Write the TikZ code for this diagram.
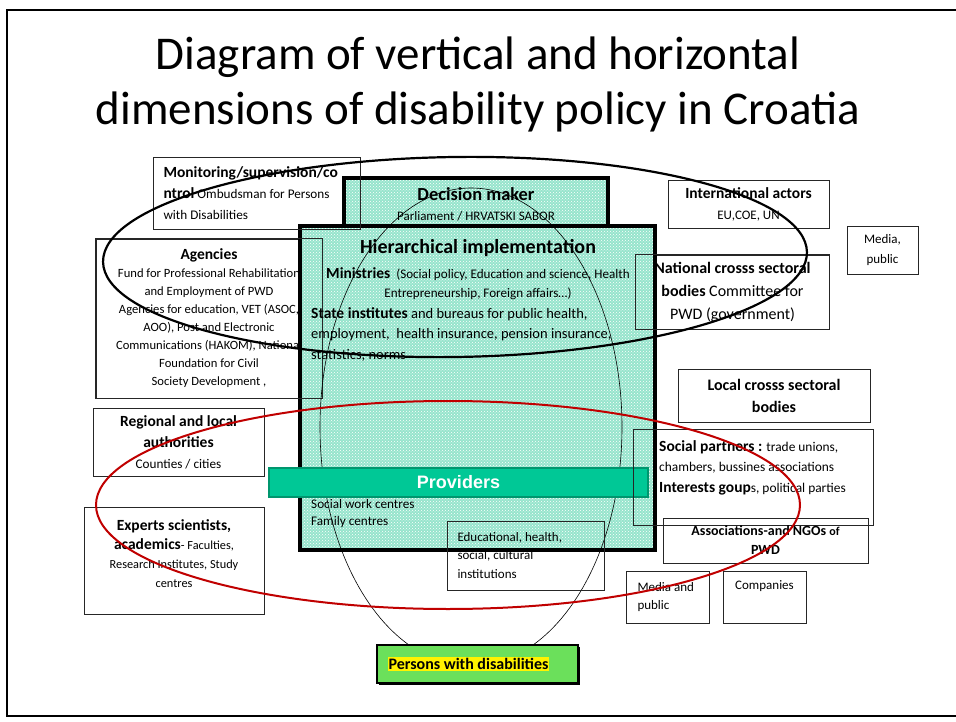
\documentclass[tikz,border=0pt]{standalone}
\usepackage{fontspec}
\setmainfont{Carlito}
\newfontfamily\arialfont{Liberation Sans}
\usepackage{tikz}
\usetikzlibrary{patterns}
\usetikzlibrary{shadows}

\definecolor{mint}{RGB}{150,228,204}
\definecolor{provgreen}{RGB}{0,200,150}
\definecolor{provedge}{RGB}{0,150,110}
\definecolor{pwdgreen}{RGB}{107,224,91}
\definecolor{ringred}{RGB}{192,0,0}

\def\fsz#1#2{\fontsize{#1}{#2}\selectfont}
\def\hd#1{{\fsz{15.5}{20}\bfseries #1}}
\setlength{\fboxsep}{1pt}

\begin{document}
\begin{tikzpicture}[x=1pt,y=-1pt,
    box/.style={draw=black!85,line width=0.9pt,rectangle,inner sep=0pt,align=center},
    txt/.style={inner sep=0pt},
    thickbox/.style={draw=black,line width=3.5pt,rectangle,inner sep=0pt,align=center,
        preaction={fill=mint},pattern=crosshatch dots,pattern color=white}]
\useasboundingbox (0,0) rectangle (956,722);
\draw[line width=1.8pt] (7,10) rectangle (962,716);

\node (title1) at (478,70) [anchor=base,font=\fsz{47}{55}] {Diagram of vertical and horizontal};
\node (title2) at (478,125) [anchor=base,font=\fsz{47}{55}] {dimensions of disability policy in Croatia};

% boxes that sit under the implementation block
\node (agencies) at (209,318.5) [box,minimum width=226,minimum height=159,font=\fsz{12.6}{18}]
    {\hd{Agencies}\\Fund for Professional Rehabilitation\\and Employment of PWD\\Agencies for education, VET (ASOC,\\AOO), Post and Electronic\\Communications (HAKOM), National\\Foundation for Civil\\Society Development ,};
\node (national) at (732.5,292) [box,minimum width=193,minimum height=74,font=\fsz{16}{23}]
    {\textbf{National crosss sectoral}\\\textbf{bodies} Committee for\\PWD (government)};

\node (decision) at (476,204) [thickbox,minimum width=264,minimum height=52,font=\fsz{13}{20}]
    {{\fsz{18.4}{20}\bfseries Decision maker}\\Parliament / HRVATSKI SABOR};
\node (hier) at (477.5,388) [thickbox,line width=4pt,minimum width=355,minimum height=324] {};

\draw[draw=black!85,line width=0.9pt] (agencies.north west) rectangle (agencies.south east);
\draw[draw=black!85,line width=0.9pt] (national.north west) rectangle (national.south east);

\node (monitor) at (256.5,193) [box,minimum width=207,minimum height=72,align=flush left,text width=186,font=\fsz{13.2}{21}]
    {\hd{Monitoring/supervision/co}\\\hd{ntrol} Ombudsman for Persons\\with Disabilities};

\draw[line width=0.6pt] (471,427) ellipse [x radius=151, y radius=239];

\node (hiertitle) at (478,248) [txt,font=\fsz{20}{24}\bfseries] {Hierarchical implementation};
\node (ministries) at (478,283.5) [txt,align=center,font=\fsz{13.1}{19}]
    {{\fsz{15.5}{19}\bfseries Ministries}\ \ (Social policy, Education and science, Health\\Entrepreneurship, Foreign affairs…)};
\node (institutes) at (311,334) [txt,anchor=west,align=left,font=\fsz{14.5}{20.5}]
    {{\fsz{15.5}{20.5}\bfseries State institutes} and bureaus for public health,\\employment,\ \ health insurance, pension insurance,\\statistics, norms};
\node (centres) at (311,513.5) [txt,anchor=west,align=left,font=\fsz{13.2}{17.5}]
    {Social work centres\\Family centres};

\node (providers) at (458.5,482.5) [draw=provedge,line width=1.5pt,fill=provgreen,minimum width=379,minimum height=29,
    text=white,font=\arialfont\bfseries\fsz{18}{20}] {Providers};

\node (institutions) at (525.5,555.5) [box,minimum width=157,minimum height=69,align=flush left,text width=136,font=\fsz{13}{18.5}]
    {Educational, health,\\social, cultural\\institutions};

\node (regional) at (178.5,442) [box,minimum width=171,minimum height=68,font=\fsz{13.2}{21}]
    {\hd{Regional and local}\\\hd{authorities}\\Counties / cities};
\node (experts) at (174,560.5) [box,minimum width=180,minimum height=107] {};
\node (expertstext) at (174,554) [txt,align=center,font=\fsz{12.3}{19}]
    {\hd{Experts scientists,}\\\hd{academics}- Faculties,\\Research Institutes, Study\\centres};

\node (international) at (748.5,204) [box,minimum width=161,minimum height=48,font=\fsz{13}{21}]
    {\hd{International actors}\\EU,COE, UN};
\node (media) at (882.5,250) [box,minimum width=71,minimum height=48,font=\fsz{13}{20}] {Media,\\public};
\node (local) at (774,395.5) [box,minimum width=192,minimum height=53,font=\fsz{16}{22}\bfseries]
    {Local crosss sectoral\\bodies};
\node (partners) at (753,477) [box,minimum width=240,minimum height=96] {};
\node (partnerstext) at (659,467.5) [txt,anchor=west,align=left,font=\fsz{13.4}{20.5}]
    {\hd{Social partners :} trade unions,\\chambers, bussines associations\\\hd{Interests goup}s, political parties};
\node (associations) at (765.5,540.5) [box,minimum width=205,minimum height=45,font=\fsz{14}{19}\bfseries]
    {Associations-and NGOs {\fsz{12}{19}of}\\PWD};
\node (mediapublic) at (667.5,597) [box,minimum width=83,minimum height=52,align=flush left,text width=60,font=\fsz{13}{18}]
    {Media and\\public};
\node (companies) at (764.5,597) [box,minimum width=83,minimum height=52] {};
\node (companiestext) at (764.5,586) [txt,font=\fsz{13}{18}] {Companies};

\node (persons) at (477.5,664) [draw=black,line width=1.2pt,fill=pwdgreen,minimum width=201,minimum height=38,
    inner sep=0pt,align=flush left,text width=180,font=\fsz{16}{18}\bfseries,
    drop shadow={shadow xshift=1.5pt,shadow yshift=-1.5pt,fill=black,opacity=1}]
    {\colorbox{yellow}{Persons with disabilities}};

\draw[line width=2.2pt,rotate around={0.8:(455,257)}] (455,257) ellipse [x radius=352, y radius=100];
\draw[ringred,line width=2pt] (448,505) ellipse [x radius=352, y radius=104];

\end{tikzpicture}
\end{document}
